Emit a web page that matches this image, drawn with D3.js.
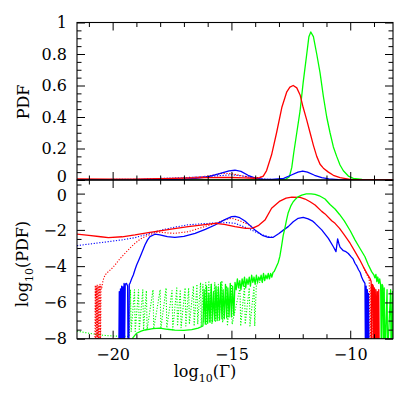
<!DOCTYPE html>
<html><head><meta charset="utf-8">
<script src="https://cdn.jsdelivr.net/npm/d3@7"></script>
<style>body{margin:0;background:#fff}svg{display:block}</style>
</head><body>
<svg id="c" width="415" height="415"></svg>
<script>
// ---------- axis settings (values only) ----------
const xDomain = [-21.5, -8.2];
const xMajorTicks = [-20, -15, -10];
const xMinorTicks = [-21, -19, -18, -17, -16, -14, -13, -12, -11, -9];
const topYMajor = [0, 0.2, 0.4, 0.6, 0.8, 1];
const topYMinor = [0.05,0.1,0.15,0.25,0.3,0.35,0.45,0.5,0.55,0.65,0.7,0.75,0.85,0.9,0.95];
const botYDomain = [-8, 0.75];
const botYMajor = [-8, -6, -4, -2, 0];
const botYMinor = [-7.5,-7,-6.5,-5.5,-5,-4.5,-3.5,-3,-2.5,-1.5,-1,-0.5,0.5];

// ---------- top panel: PDF (linear) ----------
const topGreen = [[-21.5,0.001],[-14,0.001],[-13,0.002],[-12.7,0.006],[-12.56,0.021],[-12.46,0.08],
 [-12.38,0.17],[-12.25,0.30],[-12.11,0.44],[-11.98,0.62],[-11.83,0.80],[-11.74,0.91],[-11.66,0.94],
 [-11.55,0.91],[-11.41,0.80],[-11.27,0.68],[-11.13,0.53],[-10.99,0.40],[-10.85,0.30],[-10.71,0.21],
 [-10.57,0.15],[-10.43,0.095],[-10.29,0.059],[-10.08,0.025],[-9.87,0.01],[-9.5,0.004],[-8.2,0.002]];
const topRed = [[-21.5,0.007],[-20,0.005],[-19,0.006],[-18,0.009],[-17,0.012],[-16,0.015],[-15.5,0.017],
 [-15,0.016],[-14.5,0.014],[-14,0.011],[-13.8,0.015],[-13.66,0.025],[-13.52,0.06],[-13.31,0.16],
 [-13.1,0.30],[-12.88,0.46],[-12.67,0.56],[-12.54,0.59],[-12.4,0.60],[-12.25,0.585],[-12.11,0.54],
 [-11.98,0.46],[-11.83,0.38],[-11.69,0.30],[-11.55,0.22],[-11.41,0.15],[-11.27,0.10],[-11.13,0.075],
 [-10.92,0.05],[-10.71,0.03],[-10.43,0.015],[-10.01,0.004],[-8.2,0.002]];
const topBlue = [[-21.5,0.002],[-18,0.003],[-17,0.005],[-16.5,0.01],[-16,0.02],[-15.5,0.04],[-15.1,0.058],
 [-14.85,0.062],[-14.6,0.055],[-14.3,0.03],[-14.0,0.012],[-13.7,0.006],[-13.3,0.004],[-12.8,0.01],
 [-12.5,0.03],[-12.2,0.05],[-12.0,0.057],[-11.8,0.05],[-11.5,0.03],[-11.2,0.015],[-10.9,0.007],
 [-10.5,0.003],[-8.2,0.001]];
const topRedDot = [[-20.5,0.0],[-19,0.004],[-18,0.008],[-17,0.012],[-16,0.025],[-15.4,0.042],[-15,0.04],
 [-14.5,0.025],[-14.0,0.014],[-13.7,0.02]];
const topBlueDot = [[-21.5,0.002],[-19,0.005],[-17,0.015],[-16,0.022],[-15,0.033],[-14.5,0.025],
 [-14,0.01],[-13.5,0.005],[-13.3,0.004]];

// ---------- bottom panel: log10(PDF) ----------
const logRed = [[-21.5,-2.23],[-21,-2.3],[-20.5,-2.38],[-20.18,-2.43],[-19.6,-2.38],[-19.06,-2.28],
 [-18.5,-2.15],[-18.01,-2.05],[-17.4,-1.93],[-16.82,-1.82],[-16.2,-1.72],[-15.69,-1.64],[-15.3,-1.7],
 [-14.85,-1.82],[-14.4,-1.92],[-14.1,-1.9],[-13.85,-1.75],[-13.59,-1.46],[-13.31,-0.81],[-12.96,-0.41],
 [-12.7,-0.25],[-12.46,-0.2],[-12.11,-0.21],[-11.9,-0.3],[-11.69,-0.45],[-11.48,-0.63],[-11.2,-0.98],
 [-11.06,-1.12],[-10.78,-1.5],[-10.64,-1.64],[-10.45,-1.92],[-10.25,-2.28],[-10.0,-2.75],[-9.8,-3.2],
 [-9.6,-3.65],[-9.45,-4.03],[-9.3,-4.4],[-9.17,-4.67],[-9.12,-4.85],[-9.1,-9],[-9.07,-5.0],[-9.03,-5.1],
 [-9.01,-9],[-8.98,-5.2],[-8.95,-9],[-8.92,-5.3],[-8.9,-9],[-8.86,-5.4],[-8.84,-9],[-8.8,-5.3],[-8.78,-9]];
const logRedDot = [[-20.75,-9],[-20.73,-5.05],[-20.71,-9],[-20.69,-5.1],[-20.67,-9],[-20.65,-5.0],
 [-20.63,-9],[-20.61,-5.1],[-20.59,-9],[-20.57,-5.05],[-20.55,-9],[-20.53,-5.0],[-20.51,-9],[-20.49,-5.1],
 [-20.46,-5.2],[-20.42,-4.9],[-20.38,-4.7],[-20.32,-4.49],[-20.18,-4.3],[-20.05,-4.15],[-19.9,-3.94],
 [-19.7,-3.6],[-19.48,-3.29],[-19.25,-2.98],[-19.06,-2.74],[-18.85,-2.52],[-18.64,-2.37],[-18.22,-2.15],
 [-18.01,-2.12],[-17.7,-2.17],[-17.38,-2.19],[-16.82,-2.1],[-16.2,-1.85],[-15.69,-1.64],[-15.3,-1.45],
 [-14.99,-1.36],[-14.64,-1.5],[-14.3,-1.7],[-14.05,-1.88]];
const logRedDotRight = [[-9.45,-4.05],[-9.3,-4.45],[-9.2,-4.75],[-9.16,-9],[-9.13,-5.1],[-9.06,-5.2],
 [-9.04,-9],[-8.96,-5.3],[-8.94,-9]];
const logBlue = [[-19.74,-9],[-19.72,-5.4],[-19.7,-9],[-19.67,-5.25],[-19.65,-9],[-19.62,-5.1],[-19.6,-9],
 [-19.57,-5.15],[-19.55,-9],[-19.52,-4.95],[-19.5,-9],[-19.47,-5.0],[-19.42,-4.95],[-19.37,-5.1],
 [-19.35,-9],[-19.32,-9],[-19.3,-5.0],[-19.27,-4.95],[-19.2,-4.7],[-19.13,-4.49],[-19.06,-4.2],
 [-18.99,-3.94],[-18.88,-3.6],[-18.78,-3.29],[-18.64,-2.83],[-18.53,-2.55],[-18.43,-2.37],[-18.22,-2.24],
 [-18.01,-2.28],[-17.7,-2.37],[-17.38,-2.41],[-17.0,-2.36],[-16.53,-2.19],[-16.1,-1.97],[-15.69,-1.73],
 [-15.3,-1.45],[-14.99,-1.27],[-14.85,-1.25],[-14.65,-1.33],[-14.43,-1.51],[-14.2,-1.78],[-14.01,-2.01],
 [-13.7,-2.3],[-13.45,-2.41],[-13.24,-2.41],[-13.0,-2.2],[-12.8,-2.0],[-12.61,-1.82],[-12.4,-1.55],
 [-12.19,-1.36],[-11.98,-1.31],[-11.77,-1.39],[-11.6,-1.5],[-11.48,-1.64],[-11.2,-2.0],[-10.92,-2.47],
 [-10.71,-2.93],[-10.6,-3.2],[-10.53,-2.5],[-10.48,-2.75],[-10.43,-2.95],[-10.29,-3.15],[-10.18,-3.2],
 [-10.08,-3.3],[-9.95,-3.5],[-9.88,-3.6],[-9.8,-3.84],[-9.72,-4.0],[-9.65,-4.2],[-9.58,-4.35],
 [-9.52,-4.6],[-9.45,-4.8],[-9.38,-4.95],[-9.36,-9],[-9.33,-5.1],[-9.31,-9],[-9.28,-5.3],[-9.26,-9],
 [-9.23,-5.5],[-9.21,-9]];
const logBlueDot = [[-21.5,-2.87],[-20.8,-2.75],[-20.18,-2.65],[-19.6,-2.55],[-19.06,-2.43],[-18.5,-2.22],
 [-18.01,-2.03],[-17.4,-1.85],[-16.82,-1.72],[-16.2,-1.66],[-15.69,-1.62],[-15.2,-1.6],[-14.85,-1.64],
 [-14.43,-1.85],[-14.01,-2.1],[-13.7,-2.28],[-13.45,-2.37],[-13.25,-2.41]];
const logGreen = [[-19.22,-9],[-19.15,-7.95],[-19.06,-7.8],[-18.99,-7.7],[-18.8,-7.58],[-18.64,-7.52],
 [-18.3,-7.45],[-18.01,-7.42],[-17.7,-7.48],[-17.38,-7.53],[-17.0,-7.54],[-16.67,-7.5],[-16.4,-7.42],
 [-16.2,-7.3],[-16.15,-5.3],[-16.1,-7.2],[-16.05,-5.1],[-16.0,-7.15],[-15.95,-5.5],[-15.9,-7.1],
 [-15.85,-5.0],[-15.8,-7.05],[-15.75,-5.4],[-15.7,-7.0],[-15.65,-5.1],[-15.6,-7.0],[-15.55,-5.2],
 [-15.5,-6.95],[-15.45,-4.9],[-15.4,-6.9],[-15.35,-5.3],[-15.3,-6.9],[-15.25,-5.0],[-15.2,-6.85],
 [-15.15,-5.2],[-15.1,-6.8],[-15.05,-4.95],[-15.0,-6.8],[-14.95,-5.1],[-14.9,-6.7],[-14.85,-4.9],
 [-14.8,-5.3],[-14.75,-4.7],[-14.7,-5.2],[-14.65,-4.8],[-14.6,-5.3],[-14.55,-4.7],[-14.5,-5.1],
 [-14.45,-4.6],[-14.4,-5.2],[-14.35,-4.7],[-14.3,-5.0],[-14.25,-4.6],[-14.2,-5.1],[-14.15,-4.5],
 [-14.1,-4.9],[-14.05,-4.6],[-14.0,-5.0],[-13.95,-4.5],[-13.9,-4.9],[-13.85,-4.6],[-13.8,-4.8],
 [-13.75,-4.5],[-13.7,-4.9],[-13.65,-4.4],[-13.6,-4.8],[-13.55,-4.5],[-13.5,-4.7],[-13.45,-4.4],
 [-13.4,-4.7],[-13.35,-4.4],[-13.3,-4.6],[-13.25,-4.35],[-13.2,-4.3],[-13.1,-4.0],[-13.03,-3.8],
 [-12.96,-3.45],[-12.89,-2.9],[-12.82,-2.3],[-12.75,-1.9],[-12.68,-1.45],[-12.61,-1.05],[-12.5,-0.68],
 [-12.4,-0.45],[-12.32,-0.33],[-12.2,-0.18],[-12.04,-0.08],[-11.85,-0.02],[-11.65,-0.01],[-11.48,-0.04],
 [-11.3,-0.12],[-11.06,-0.3],[-10.85,-0.6],[-10.64,-0.85],[-10.45,-1.15],[-10.25,-1.5],[-10.0,-2.05],
 [-9.8,-2.55],[-9.6,-3.0],[-9.38,-3.48],[-9.25,-3.9],[-9.1,-4.3],[-9.0,-4.5],[-8.96,-4.65],[-8.92,-4.45],
 [-8.88,-4.85],[-8.84,-4.6],[-8.8,-4.95],[-8.76,-4.7],[-8.72,-5.05],[-8.69,-9],[-8.66,-5.0],[-8.63,-5.1],
 [-8.6,-9],[-8.57,-5.2],[-8.54,-9],[-8.45,-5.3],[-8.43,-9],[-8.3,-5.3],[-8.28,-9],[-8.22,-5.4],[-8.2,-9]];
const logGreenDot = [[-21.5,-7.58],[-21.0,-7.7],[-20.5,-7.8],[-20.0,-7.85],[-19.5,-7.87],[-19.3,-7.87],
 [-19.25,-5.3],[-19.22,-7.6],[-19.08,-5.3],[-19.05,-7.6],[-18.91,-5.3],[-18.88,-7.55],[-18.73,-5.3],
 [-18.7,-7.5],[-18.58,-5.35],[-18.55,-7.5],[-18.3,-5.3],[-18.27,-7.45],[-18.0,-5.3],[-17.97,-7.45],
 [-17.75,-5.2],[-17.72,-7.4],[-17.5,-5.35],[-17.47,-7.5],[-17.3,-5.2],[-17.27,-7.3],[-17.15,-5.3],
 [-17.12,-7.4],[-16.95,-5.2],[-16.92,-7.3],[-16.8,-5.2],[-16.77,-7.2],[-16.6,-5.1],[-16.57,-7.3],
 [-16.45,-5.0],[-16.42,-7.2],[-16.3,-4.9],[-16.27,-7.3],[-16.2,-5.0],[-16.17,-7.1],[-16.08,-4.9],
 [-16.05,-7.2],[-15.95,-4.8],[-15.92,-7.1],[-15.85,-5.0],[-15.82,-7.2],[-15.7,-4.9],[-15.67,-7.1],
 [-15.55,-5.0],[-15.52,-7.0],[-15.4,-4.8],[-15.37,-7.1],[-15.2,-5.1],[-15.17,-7.3],[-15.0,-5.0],
 [-14.97,-7.2],[-14.64,-5.2],[-14.61,-7.3],[-14.45,-5.1],[-14.42,-7.2],[-14.25,-5.2],[-14.22,-7.3],
 [-14.05,-5.1],[-14.02,-7.3],[-13.95,-5.0],[-13.7,-4.8],[-13.5,-4.6],[-13.3,-4.6]];

// ---------- drawing ----------
const svg = d3.select("#c");
const L = 77, R = 393, T1 = 22.5, B1 = 180, T2 = 180, B2 = 338.7;
const FONT = "'DejaVu Serif',serif";
const FS = 16;
const x = d3.scaleLinear().domain(xDomain).range([L, R]);
const yTop = d3.scaleLinear().domain([0, 1]).range([B1, T1]);
const yBot = d3.scaleLinear().domain(botYDomain).range([B2, T2]);

const defs = svg.append("defs");
defs.append("clipPath").attr("id","clipTop").append("rect").attr("x",L).attr("y",T1).attr("width",R-L).attr("height",B1-T1);
defs.append("clipPath").attr("id","clipBot").append("rect").attr("x",L).attr("y",T2).attr("width",R-L).attr("height",B2-T2);

function drawLines(clip, y, series) {
  const g = svg.append("g").attr("clip-path", `url(#${clip})`);
  const line = d3.line().x(d => x(d[0])).y(d => y(d[1]));
  series.forEach(s => {
    g.append("path").attr("d", line(s.data)).attr("fill","none")
      .attr("stroke", s.color).attr("stroke-width", s.dot ? 1.1 : 1.3)
      .attr("stroke-dasharray", s.dot ? "1.2,1.6" : null)
      .attr("stroke-linejoin","round");
  });
}

const RED = "#ff0000", GREEN = "#00ff00", BLUE = "#0000ff";

drawLines("clipTop", yTop, [
  {data: topBlueDot, color: BLUE, dot: true},
  {data: topRedDot, color: RED, dot: true},
  {data: topGreen, color: GREEN},
  {data: topBlue, color: BLUE},
  {data: topRed, color: RED},
]);
drawLines("clipBot", yBot, [
  {data: logGreenDot, color: GREEN, dot: true},
  {data: logRedDot, color: RED, dot: true},
  {data: logRedDotRight, color: RED, dot: true},
  {data: logBlueDot, color: BLUE, dot: true},
  {data: logBlue, color: BLUE},
  {data: logRed, color: RED},
  {data: logGreen, color: GREEN},
]);

function styleAxis(g) {
  g.select(".domain").remove();
  g.selectAll(".tick line").attr("stroke","#000").attr("stroke-width",1);
  g.selectAll("text").attr("font-family", FONT).attr("font-size", FS).attr("fill","#000");
}
const fmtTop = d => String(d);
const fmtBot = d => d < 0 ? "\u2212" + (-d) : String(d);

function panelAxes(y, top, bottom, yMajor, yMinor, yFmt, xLabels, cls) {
  svg.append("g").attr("class", cls).attr("transform",`translate(${L},0)`)
    .call(d3.axisLeft(y).tickValues(yMajor).tickSize(-8).tickPadding(10).tickFormat(yFmt)).call(styleAxis);
  svg.append("g").attr("transform",`translate(${L},0)`)
    .call(d3.axisLeft(y).tickValues(yMinor).tickSize(-4.5).tickFormat("")).call(styleAxis);
  svg.append("g").attr("transform",`translate(${R},0)`)
    .call(d3.axisRight(y).tickValues(yMajor).tickSize(-8).tickFormat("")).call(styleAxis);
  svg.append("g").attr("transform",`translate(${R},0)`)
    .call(d3.axisRight(y).tickValues(yMinor).tickSize(-4.5).tickFormat("")).call(styleAxis);
  svg.append("g").attr("transform",`translate(0,${top})`)
    .call(d3.axisTop(x).tickValues(xMajorTicks).tickSize(-8).tickFormat("")).call(styleAxis);
  svg.append("g").attr("transform",`translate(0,${top})`)
    .call(d3.axisTop(x).tickValues(xMinorTicks).tickSize(-4.5).tickFormat("")).call(styleAxis);
  svg.append("g").attr("transform",`translate(0,${bottom})`)
    .call(d3.axisBottom(x).tickValues(xMajorTicks).tickSize(-8).tickPadding(10)
      .tickFormat(xLabels ? fmtBot : "")).call(styleAxis);
  svg.append("g").attr("transform",`translate(0,${bottom})`)
    .call(d3.axisBottom(x).tickValues(xMinorTicks).tickSize(-4.5).tickFormat("")).call(styleAxis);
  svg.append("rect").attr("x",L).attr("y",top).attr("width",R-L).attr("height",bottom-top)
    .attr("fill","none").attr("stroke","#000").attr("stroke-width",1.1);
}
panelAxes(yTop, T1, B1, topYMajor, topYMinor, fmtTop, false, "topY");
panelAxes(yBot, T2, B2, botYMajor, botYMinor, fmtBot, true, "botY");
// nudge the two "0" labels that meet at the panel junction apart slightly
svg.selectAll(".topY .tick text").filter(d => d === 0).attr("dy", "0.1em");
svg.selectAll(".botY .tick text").filter(d => d === 0).attr("dy", "0.42em");

// titles
function subText(xp, yp, rot, parts) {
  const t = svg.append("text").attr("transform",`translate(${xp},${yp}) rotate(${rot})`)
    .attr("text-anchor","middle").attr("font-family",FONT).attr("font-size",FS).attr("fill","#000");
  parts.forEach(p => {
    const s = t.append("tspan").text(p.t);
    if (p.sub) s.attr("font-size",11).attr("dy",5);
    if (p.up) s.attr("dy",-5);
  });
}
subText(205, 377, 0, [{t:"log"},{t:"10",sub:true},{t:"(\u0393)",up:true}]);
subText(29, 102, -90, [{t:"PDF"}]);
subText(28, 264, -90, [{t:"log"},{t:"10",sub:true},{t:"(PDF)",up:true}]);
</script>
</body></html>
